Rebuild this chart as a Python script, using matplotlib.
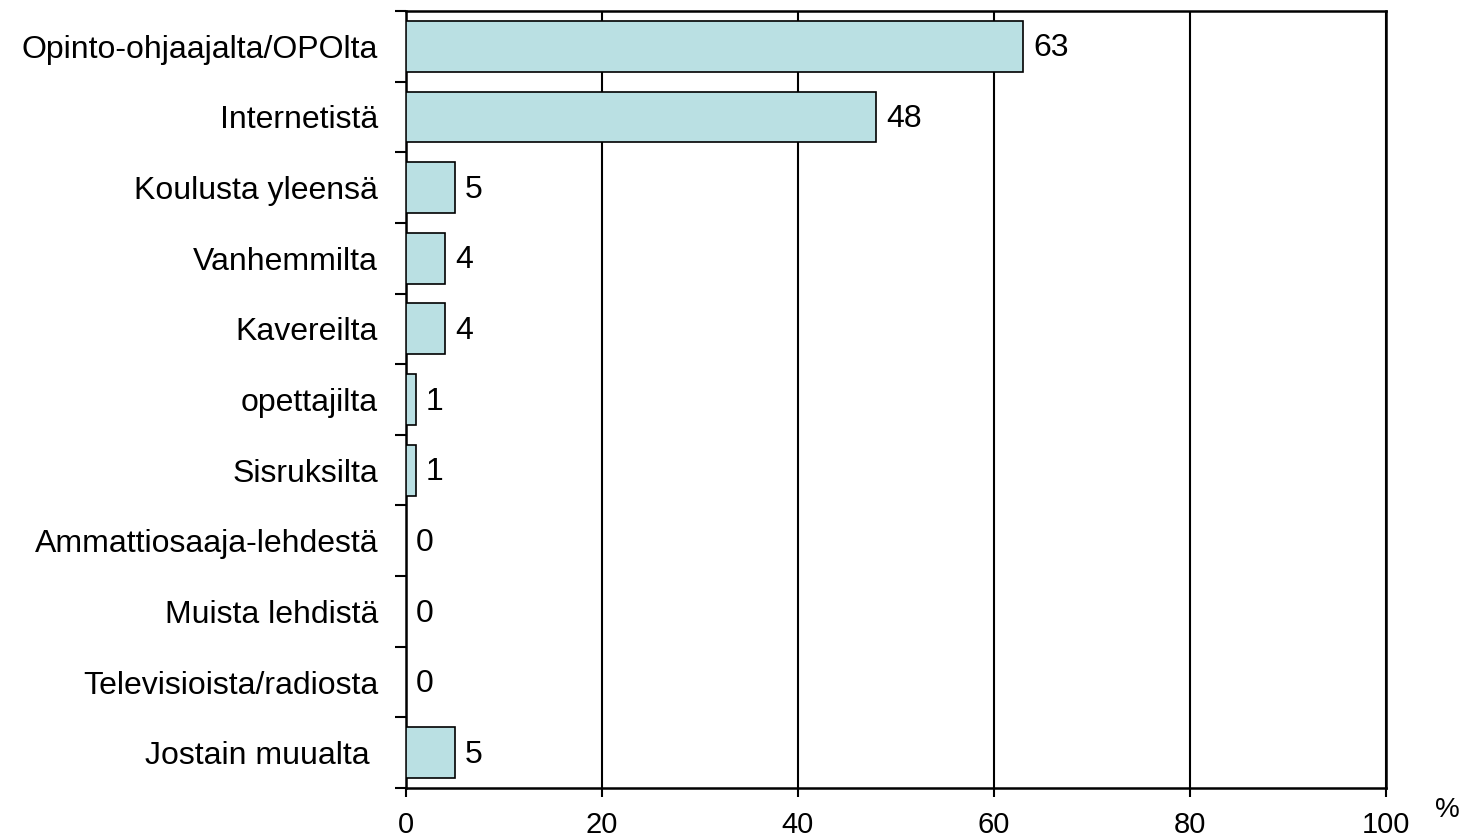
import numpy as np
import matplotlib.pyplot as plt

plt.rcParams['font.family'] = ['Liberation Sans', 'DejaVu Sans']

categories = [
    "Opinto-ohjaajalta/OPOlta", "Internetistä", "Koulusta yleensä",
    "Vanhemmilta", "Kavereilta", "opettajilta", "Sisruksilta",
    "Ammattiosaaja-lehdestä", "Muista lehdistä", "Televisioista/radiosta",
    "Jostain muualta ",
]
values = [63, 48, 5, 4, 4, 1, 1, 0, 0, 0, 5]
xticks = [0, 20, 40, 60, 80, 100]

fig = plt.figure(figsize=(14.64, 8.38), dpi=100)
ax = fig.add_axes([406 / 1464, 1 - 788 / 838, 980 / 1464, 777 / 838])

y = np.arange(len(categories))
ax.barh(y, values, height=0.72, color="#BAE0E3", edgecolor="black",
        linewidth=1.2, zorder=3)
for yi, v in zip(y, values):
    ax.text(v + 1.0, yi + 0.03, str(v), va="center", ha="left", fontsize=23,
            zorder=4)

ax.set_xlim(0, 100)
ax.set_ylim(len(categories) - 0.5, -0.5)
ax.set_xticks(xticks)
ax.set_xticklabels([str(t) for t in xticks], fontsize=21)
ax.tick_params(axis="x", direction="out", length=6.5, width=1.5, pad=10)
ax.xaxis.grid(True, color="black", linewidth=1.5, zorder=0)

ax.set_yticks(y)
ax.set_yticklabels(categories, fontsize=23)
ax.tick_params(axis="y", which="major", length=0, pad=20)
ax.set_yticks(np.arange(len(categories) + 1) - 0.5, minor=True)
ax.tick_params(axis="y", which="minor", direction="out", length=8, width=1.5)

for s in ax.spines.values():
    s.set_linewidth(1.8)

fig.text(1447 / 1464, 1 - 810 / 838, "%", fontsize=20, ha="center", va="center")

fig.savefig("out.png", dpi=100)
